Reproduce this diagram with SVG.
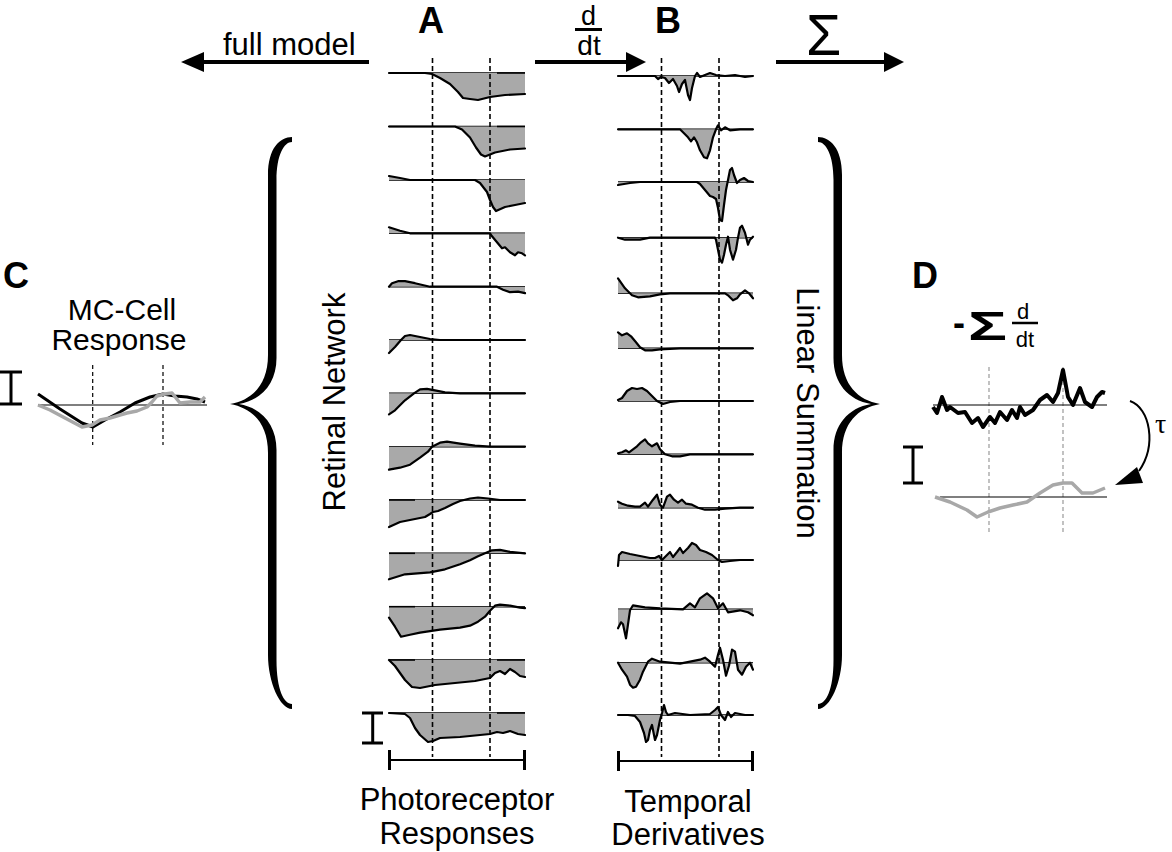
<svg xmlns="http://www.w3.org/2000/svg" xmlns:xlink="http://www.w3.org/1999/xlink" width="1172" height="852" viewBox="0 0 1172 852">
<style>
.fill{fill:#a9a9a9;stroke:none}
.cv{fill:none;stroke:#000;stroke-width:2.2;stroke-linejoin:round;stroke-linecap:round}
.bl{stroke:#000;stroke-width:1.6}
.dash{stroke:#000;stroke-width:1.6;stroke-dasharray:5 3}
.lbl{font-family:"Liberation Sans",Arial,sans-serif;font-size:31px;fill:#000}
.big{font-family:"Liberation Sans",Arial,sans-serif;font-weight:bold;font-size:36px;fill:#000}
.bar{stroke:#000;stroke-width:3;fill:none}
.thin{stroke:#000;stroke-width:2;fill:none}
</style>
<defs>
<path id="brace" d="M292,137 C280,137 268,148 268,175 L268,355 C268,385 252,400 230,404 C252,408 268,423 268,453 L268,655 C268,682 280,709 292,709 L292,704 C284,704 276.5,690 276.5,660 L276.5,450 C276.5,425 262,408 239,404 C262,400 276.5,383 276.5,358 L276.5,180 C276.5,155 284,142 292,142 Z" fill="#000"/>
</defs>

<g id="connectors">
  <line x1="369" y1="62" x2="200" y2="62" stroke="#000" stroke-width="4"/>
  <polygon points="181,62 204,52 204,72" fill="#000"/>
  <line x1="535" y1="62" x2="628" y2="62" stroke="#000" stroke-width="4"/>
  <polygon points="646,62 626,52 626,72" fill="#000"/>
  <line x1="776" y1="62" x2="886" y2="62" stroke="#000" stroke-width="4"/>
  <polygon points="904,62 884,52 884,72" fill="#000"/>
  <path d="M1130,401 C1150,408 1157,445 1139,471" fill="none" stroke="#000" stroke-width="2"/>
  <polygon points="1115,485 1137,467 1143,483" fill="#000"/>
</g>

<g id="top-labels">
  <text class="lbl" x="223" y="55">full model</text>
  <text class="big" x="418" y="33">A</text>
  <text class="big" x="655" y="33">B</text>
  <text class="lbl" x="588.5" y="25" text-anchor="middle" style="font-size:27px">d</text>
  <line x1="575" y1="29.5" x2="602" y2="29.5" stroke="#000" stroke-width="3"/>
  <text class="lbl" x="589" y="55" text-anchor="middle" style="font-size:28px">dt</text>
  <text class="lbl" x="823.5" y="55" text-anchor="middle" style="font-size:57px">Σ</text>
</g>

<g id="braces">
  <use xlink:href="#brace"/>
  <use xlink:href="#brace" transform="translate(1110,0) scale(-1,1)"/>
  <text class="lbl" transform="translate(345,402) rotate(-90)" text-anchor="middle">Retinal Network</text>
  <text class="lbl" transform="translate(797,413) rotate(90)" text-anchor="middle">Linear Summation</text>
</g>

<g id="panel-A">
  <g transform="translate(0,73)">
    <line class="bl" x1="389" y1="0" x2="525" y2="0"/>
    <path class="fill" d="M389,0 L425,0 L432,1 L440,5 L450,11 L458,19 L463,25 L470,26 L478,27 L490,24 L505,22 L525,21 L525,0 Z"/>
    <line class="bl" x1="497" y1="0" x2="525" y2="0"/>
    <polyline class="cv" points="389,0 425,0 432,1 440,5 450,11 458,19 463,25 470,26 478,27 490,24 505,22 525,21"/>
  </g>
  <g transform="translate(0,126.5)">
    <line class="bl" x1="389" y1="0" x2="525" y2="0"/>
    <path class="fill" d="M389,0 L455,0 L462,3 L470,11 L476,21 L481,28 L485,30 L495,26 L510,23 L525,22 L525,0 Z"/>
    <line class="bl" x1="497" y1="0" x2="525" y2="0"/>
    <polyline class="cv" points="389,0 455,0 462,3 470,11 476,21 481,28 485,30 495,26 510,23 525,22"/>
  </g>
  <g transform="translate(0,180)">
    <line class="bl" x1="389" y1="0" x2="525" y2="0"/>
    <path class="fill" d="M389,0 L389,-4 L400,-2 L410,0 L475,0 L480,3 L487,12 L490,20 L493,27 L496,31 L505,27 L515,25 L525,23 L525,0 Z"/>
    <polyline class="cv" points="389,-4 400,-2 410,0 475,0 480,3 487,12 490,20 493,27 496,31 505,27 515,25 525,23"/>
  </g>
  <g transform="translate(0,233.3)">
    <line class="bl" x1="389" y1="0" x2="525" y2="0"/>
    <path class="fill" d="M389,0 L389,-6 L400,-2.5 L410,0 L490,0 L492,3 L497,9 L502,15 L505,14 L510,19 L515,22 L518,19 L522,20 L525,22 L525,0 Z"/>
    <polyline class="cv" points="389,-6 400,-2.5 410,0 490,0 492,3 497,9 502,15 505,14 510,19 515,22 518,19 522,20 525,22"/>
  </g>
  <g transform="translate(0,286.7)">
    <line class="bl" x1="389" y1="0" x2="525" y2="0"/>
    <path class="fill" d="M389,0 L392,-3.5 L398,-5.5 L405,-5.5 L415,-3.5 L430,0 L497,0 L503,3 L510,5.5 L518,5 L525,6.5 L525,0 Z"/>
    <polyline class="cv" points="389,0 392,-3.5 398,-5.5 405,-5.5 415,-3.5 430,0 497,0 503,3 510,5.5 518,5 525,6.5"/>
  </g>
  <g transform="translate(0,340)">
    <line class="bl" x1="389" y1="0" x2="525" y2="0"/>
    <path class="fill" d="M389,0 L389,13 L395,7 L401,0 L405,-4 L410,-5 L420,-3 L430,-1 L440,0 Z"/>
    <polyline class="cv" points="389,13 395,7 401,0 405,-4 410,-5 420,-3 430,-1 440,0 525,0"/>
  </g>
  <g transform="translate(0,393.3)">
    <line class="bl" x1="389" y1="0" x2="525" y2="0"/>
    <path class="fill" d="M389,0 L389,21 L395,17 L405,7 L414,0 L420,-4 L427,-4.5 L435,-3 L445,-1 L460,0 Z"/>
    <polyline class="cv" points="389,21 395,17 405,7 414,0 420,-4 427,-4.5 435,-3 445,-1 460,0 525,0"/>
  </g>
  <g transform="translate(0,446.7)">
    <line class="bl" x1="389" y1="0" x2="525" y2="0"/>
    <path class="fill" d="M389,0 L389,23 L400,21 L410,18 L420,11 L428,5 L432,0 L440,-4 L447,-5 L460,-3 L475,-1 L490,0 Z"/>
    <polyline class="cv" points="389,23 400,21 410,18 420,11 428,5 432,0 440,-4 447,-5 460,-3 475,-1 490,0 525,0"/>
  </g>
  <g transform="translate(0,500)">
    <line class="bl" x1="389" y1="0" x2="525" y2="0"/>
    <path class="fill" d="M389,0 L389,27 L400,22 L415,19 L425,17 L430,14 L433,12 L438,11 L445,8 L453,4 L460,1 L470,-1.5 L478,-2.5 L488,-1.5 L500,0 Z"/>
    <line class="bl" x1="389" y1="0" x2="415" y2="0"/>
    <polyline class="cv" points="389,27 400,22 415,19 425,17 430,14 433,12 438,11 445,8 453,4 460,1 470,-1.5 478,-2.5 488,-1.5 500,0 525,0"/>
  </g>
  <g transform="translate(0,553.3)">
    <line class="bl" x1="389" y1="0" x2="525" y2="0"/>
    <path class="fill" d="M389,0 L389,26 L405,21 L430,19 L445,16 L460,11 L470,7 L478,3 L485,0 L492,-3 L500,-3.5 L510,-1.5 L525,0 Z"/>
    <line class="bl" x1="389" y1="0" x2="415" y2="0"/>
    <polyline class="cv" points="389,26 405,21 430,19 445,16 460,11 470,7 478,3 485,0 492,-3 500,-3.5 510,-1.5 525,0"/>
  </g>
  <g transform="translate(0,606.7)">
    <line class="bl" x1="389" y1="0" x2="525" y2="0"/>
    <path class="fill" d="M389,0 L389,11 L395,20 L401,30 L410,28 L420,26 L440,23 L460,21 L470,19 L478,15 L485,10 L490,4 L495,-1 L500,-2 L510,-1 L520,1 L525,1.5 L525,0 Z"/>
    <line class="bl" x1="389" y1="0" x2="415" y2="0"/>
    <polyline class="cv" points="389,11 395,20 401,30 410,28 420,26 440,23 460,21 470,19 478,15 485,10 490,4 495,-1 500,-2 510,-1 520,1 525,1.5"/>
  </g>
  <g transform="translate(0,660)">
    <line class="bl" x1="389" y1="0" x2="525" y2="0"/>
    <path class="fill" d="M389,0 L395,6 L400,13 L405,20 L412,27 L420,28 L435,25 L455,23 L475,21 L490,18 L495,13 L500,11 L505,14 L510,9 L515,12 L520,16 L525,17 L525,0 Z"/>
    <line class="bl" x1="389" y1="0" x2="415" y2="0"/>
    <line class="bl" x1="497" y1="0" x2="525" y2="0"/>
    <polyline class="cv" points="389,0 395,6 400,13 405,20 412,27 420,28 435,25 455,23 475,21 490,18 495,13 500,11 505,14 510,9 515,12 520,16 525,17"/>
  </g>
  <g transform="translate(0,713)">
    <line class="bl" x1="389" y1="0" x2="525" y2="0"/>
    <path class="fill" d="M389,0 L405,1 L410,5 L415,15 L420,22 L428,29 L433,28 L440,25 L460,24 L480,22 L490,21 L497,19 L503,20 L510,18 L518,21 L525,22 L525,0 Z"/>
    <line class="bl" x1="497" y1="0" x2="525" y2="0"/>
    <polyline class="cv" points="389,0 405,1 410,5 415,15 420,22 428,29 433,28 440,25 460,24 480,22 490,21 497,19 503,20 510,18 518,21 525,22"/>
  </g>
  <line class="dash" x1="432.5" y1="58" x2="432.5" y2="757"/>
  <line class="dash" x1="490" y1="58" x2="490" y2="757"/>
  <line class="bar" x1="372.7" y1="713" x2="372.7" y2="743"/>
  <line class="bar" x1="362" y1="713" x2="383" y2="713"/>
  <line class="bar" x1="362" y1="743" x2="383" y2="743"/>
  <line class="thin" x1="389" y1="760" x2="525" y2="760"/>
  <line class="bar" x1="389.5" y1="750" x2="389.5" y2="770"/>
  <line class="bar" x1="524.5" y1="750" x2="524.5" y2="770"/>
  <text class="lbl" x="457" y="810" text-anchor="middle">Photoreceptor</text>
  <text class="lbl" x="457" y="844" text-anchor="middle">Responses</text>
</g>

<g id="panel-B">
  <g transform="translate(0,76)">
    <line class="bl" x1="618" y1="0" x2="753" y2="0"/>
    <path class="fill" d="M618,0 L655,0 L658,3 L661,1 L665,2 L669,7 L673,3 L677,10 L679,16 L682,8 L685,4 L688,19 L690,24 L692,12 L695,0 L697,-3 L700,1 L705,-1 L710,-3 L716,-1 L725,0 L735,-1 L745,1 L753,0 Z"/>
    <polyline class="cv" points="618,0 655,0 658,3 661,1 665,2 669,7 673,3 677,10 679,16 682,8 685,4 688,19 690,24 692,12 695,0 697,-3 700,1 705,-1 710,-3 716,-1 725,0 735,-1 745,1 753,0"/>
  </g>
  <g transform="translate(0,129.3)">
    <line class="bl" x1="618" y1="0" x2="753" y2="0"/>
    <path class="fill" d="M618,0 L680,0 L683,3 L688,8 L691,12 L694,8 L697,13 L700,21 L704,28 L707,29 L710,21 L713,8 L716,0 L718,-4 L721,1 L725,-2 L730,1 L740,0 L753,0 Z"/>
    <polyline class="cv" points="618,0 680,0 683,3 688,8 691,12 694,8 697,13 700,21 704,28 707,29 710,21 713,8 716,0 718,-4 721,1 725,-2 730,1 740,0 753,0"/>
  </g>
  <g transform="translate(0,182)">
    <line class="bl" x1="618" y1="0" x2="753" y2="0"/>
    <path class="fill" d="M618,0 L618,3 L630,1 L640,0 L697,0 L700,2 L705,8 L710,14 L713,15 L716,17 L718,26 L720,38 L722,39 L724,23 L726,8 L728,-2 L730,-12 L732,-14 L734,-7 L737,1 L740,-2 L744,-4 L748,-1 L753,0 Z"/>
    <polyline class="cv" points="618,3 630,1 640,0 697,0 700,2 705,8 710,14 713,15 716,17 718,26 720,38 722,39 724,23 726,8 728,-2 730,-12 732,-14 734,-7 737,1 740,-2 744,-4 748,-1 753,0"/>
  </g>
  <g transform="translate(0,237.7)">
    <line class="bl" x1="618" y1="0" x2="753" y2="0"/>
    <path class="fill" d="M618,0 L625,2 L640,2 L650,0 L715,0 L716,2 L718,12 L720,22 L722,25 L724,17 L726,7 L728,-1 L730,12 L733,22 L736,12 L738,0 L740,-10 L742,-12 L745,-5 L748,7 L750,2 L753,-1 L753,0 Z"/>
    <polyline class="cv" points="618,0 625,2 640,2 650,0 715,0 716,2 718,12 720,22 722,25 724,17 726,7 728,-1 730,12 733,22 736,12 738,0 740,-10 742,-12 745,-5 748,7 750,2 753,-1"/>
  </g>
  <g transform="translate(0,293.3)">
    <line class="bl" x1="618" y1="0" x2="753" y2="0"/>
    <path class="fill" d="M618,0 L618,-15 L625,-5 L632,2 L638,4 L650,3 L660,1 L670,0 L725,0 L728,2 L733,7 L737,5 L740,1 L745,-3 L749,0 L753,5 L753,0 Z"/>
    <polyline class="cv" points="618,-15 625,-5 632,2 638,4 650,3 660,1 670,0 725,0 728,2 733,7 737,5 740,1 745,-3 749,0 753,5"/>
  </g>
  <g transform="translate(0,348.3)">
    <line class="bl" x1="618" y1="0" x2="753" y2="0"/>
    <path class="fill" d="M618,0 L618,-16 L622,-13 L627,-15 L631,-12 L636,-6 L640,-1 L645,2 L652,2 L660,1 L680,0 Z"/>
    <polyline class="cv" points="618,-16 622,-13 627,-15 631,-12 636,-6 640,-1 645,2 652,2 660,1 680,0 753,0"/>
  </g>
  <g transform="translate(0,401)">
    <line class="bl" x1="618" y1="0" x2="753" y2="0"/>
    <path class="fill" d="M618,0 L618,-1 L622,-3 L627,-10 L632,-13 L637,-12 L642,-13 L647,-10 L652,-5 L657,0 L663,3 L670,1 L680,0 Z"/>
    <polyline class="cv" points="618,-1 622,-3 627,-10 632,-13 637,-12 642,-13 647,-10 652,-5 657,0 663,3 670,1 680,0 753,0"/>
  </g>
  <g transform="translate(0,454.3)">
    <line class="bl" x1="618" y1="0" x2="753" y2="0"/>
    <path class="fill" d="M618,0 L618,-1 L622,-2 L626,-4 L629,-2 L633,-5 L637,-8 L641,-12 L645,-15 L648,-11 L652,-8 L657,-11 L660,-5 L665,0 L672,2 L680,2 L690,0 Z"/>
    <polyline class="cv" points="618,-1 622,-2 626,-4 629,-2 633,-5 637,-8 641,-12 645,-15 648,-11 652,-8 657,-11 660,-5 665,0 672,2 680,2 690,0 753,0"/>
  </g>
  <g transform="translate(0,507.7)">
    <line class="bl" x1="618" y1="0" x2="753" y2="0"/>
    <path class="fill" d="M618,0 L618,-6 L622,-4 L628,-2 L635,-1 L640,-1 L645,-5 L648,-1 L653,-8 L657,-13 L660,-3 L663,0 L667,-11 L670,-13 L674,-8 L678,-5 L682,-8 L686,-4 L692,-3 L698,0 L705,2 L715,2 L725,1 L740,0 Z"/>
    <polyline class="cv" points="618,-6 622,-4 628,-2 635,-1 640,-1 645,-5 648,-1 653,-8 657,-13 660,-3 663,0 667,-11 670,-13 674,-8 678,-5 682,-8 686,-4 692,-3 698,0 705,2 715,2 725,1 740,0 753,0"/>
  </g>
  <g transform="translate(0,560)">
    <line class="bl" x1="618" y1="0" x2="753" y2="0"/>
    <path class="fill" d="M618,0 L618,6 L619,-5 L622,-8 L630,-6 L640,-4 L650,-2 L655,-2 L659,-4 L662,0 L666,-4 L670,-8 L673,-3 L677,-8 L680,-12 L683,-7 L688,-12 L692,-17 L696,-15 L700,-10 L706,-8 L712,-5 L718,0 L722,2 L730,1 L740,0 Z"/>
    <polyline class="cv" points="618,6 619,-5 622,-8 630,-6 640,-4 650,-2 655,-2 659,-4 662,0 666,-4 670,-8 673,-3 677,-8 680,-12 683,-7 688,-12 692,-17 696,-15 700,-10 706,-8 712,-5 718,0 722,2 730,1 740,0 753,0"/>
  </g>
  <g transform="translate(0,609.3)">
    <line class="bl" x1="618" y1="0" x2="753" y2="0"/>
    <path class="fill" d="M618,0 L618,19 L621,13 L623,15 L626,29 L630,1 L633,-4 L645,-2 L660,-1 L683,0 L690,-6 L695,-2 L700,-11 L707,-16 L713,-11 L718,-1 L723,-6 L728,3 L740,1 L748,3 L753,6 L753,0 Z"/>
    <polyline class="cv" points="618,19 621,13 623,15 626,29 630,1 633,-4 645,-2 660,-1 683,0 690,-6 695,-2 700,-11 707,-16 713,-11 718,-1 723,-6 728,3 740,1 748,3 753,6"/>
  </g>
  <g transform="translate(0,662.7)">
    <line class="bl" x1="618" y1="0" x2="753" y2="0"/>
    <path class="fill" d="M618,0 L622,7 L627,14 L630,22 L633,25 L636,24 L640,17 L643,9 L648,-1 L652,-4 L660,-1 L680,1 L690,-1 L700,-3 L705,-5 L710,-1 L715,4 L718,-8 L720,-15 L723,-3 L726,13 L729,3 L732,-13 L735,-11 L738,7 L742,12 L746,4 L750,0 L753,7 L753,0 Z"/>
    <polyline class="cv" points="618,0 622,7 627,14 630,22 633,25 636,24 640,17 643,9 648,-1 652,-4 660,-1 680,1 690,-1 700,-3 705,-5 710,-1 715,4 718,-8 720,-15 723,-3 726,13 729,3 732,-13 735,-11 738,7 742,12 746,4 750,0 753,7"/>
  </g>
  <g transform="translate(0,715)">
    <line class="bl" x1="618" y1="0" x2="753" y2="0"/>
    <path class="fill" d="M618,0 L628,0 L635,1 L640,7 L644,18 L646,27 L648,25 L650,15 L652,10 L655,25 L657,20 L660,5 L662,-2 L664,-10 L666,-3 L668,0 L675,-2 L690,0 L710,-1 L715,-5 L718,-8 L721,0 L725,5 L728,-3 L731,2 L735,-2 L745,0 L753,0 Z"/>
    <polyline class="cv" points="618,0 628,0 635,1 640,7 644,18 646,27 648,25 650,15 652,10 655,25 657,20 660,5 662,-2 664,-10 666,-3 668,0 675,-2 690,0 710,-1 715,-5 718,-8 721,0 725,5 728,-3 731,2 735,-2 745,0 753,0"/>
  </g>
  <line class="dash" x1="661.5" y1="58" x2="661.5" y2="757"/>
  <line class="dash" x1="719" y1="58" x2="719" y2="757"/>
  <line class="thin" x1="618" y1="761" x2="753" y2="761"/>
  <line class="bar" x1="618.5" y1="751" x2="618.5" y2="771"/>
  <line class="bar" x1="752.5" y1="751" x2="752.5" y2="771"/>
  <text class="lbl" x="688" y="812" text-anchor="middle">Temporal</text>
  <text class="lbl" x="688" y="845" text-anchor="middle">Derivatives</text>
</g>

<g id="panel-C">
  <text class="big" x="3" y="288">C</text>
  <text class="lbl" x="122" y="320" text-anchor="middle" style="font-size:30px">MC-Cell</text>
  <text class="lbl" x="119" y="350" text-anchor="middle" style="font-size:30px">Response</text>
  <line class="bar" x1="11" y1="372" x2="11" y2="404"/>
  <line class="bar" x1="0" y1="372" x2="22" y2="372"/>
  <line class="bar" x1="0" y1="404" x2="22" y2="404"/>
  <line x1="38" y1="405" x2="207" y2="405" stroke="#000" stroke-width="1.2"/>
  <line x1="92.7" y1="365" x2="92.7" y2="445" stroke="#000" stroke-width="1.2" stroke-dasharray="4 3"/>
  <line x1="163" y1="365" x2="163" y2="445" stroke="#000" stroke-width="1.2" stroke-dasharray="4 3"/>
  <polyline points="38,394 60,409 82,423 93,427 105,420 120,412 135,403 150,397 163,394 175,396 187,397 197,399 205,402" fill="none" stroke="#000" stroke-width="3" stroke-linejoin="round"/>
  <polyline points="38,405 50,410 65,418 82,427 92,425 100,420 110,418 120,415 127,413 137,411 147,407 152,402 157,396 165,394 172,393 176,398 180,403 190,402 200,402 205,397" fill="none" stroke="#a8a8a8" stroke-width="3.5" stroke-linejoin="round"/>
</g>

<g id="panel-D">
  <text class="big" x="912" y="288">D</text>
  <text class="lbl" x="953" y="335" style="font-size:36px;font-weight:bold">-</text>
  <text class="lbl" x="968" y="340" textLength="39" lengthAdjust="spacingAndGlyphs" style="font-size:40px;font-weight:bold">Σ</text>
  <text class="lbl" x="1023" y="319" text-anchor="middle" style="font-size:22px">d</text>
  <line x1="1012" y1="323" x2="1038" y2="323" stroke="#000" stroke-width="2.5"/>
  <text class="lbl" x="1025" y="347" text-anchor="middle" style="font-size:22px">dt</text>
  <line x1="989" y1="367" x2="989" y2="533" stroke="#999" stroke-width="1.2" stroke-dasharray="4 3"/>
  <line x1="1063" y1="367" x2="1063" y2="533" stroke="#999" stroke-width="1.2" stroke-dasharray="4 3"/>
  <line x1="933" y1="405" x2="1107" y2="405" stroke="#000" stroke-width="1.2"/>
  <polyline points="933,407 937,413 942,397 947,410 950,407 958,413 965,412 972,423 978,418 983,427 990,417 995,423 1000,412 1007,420 1012,410 1017,418 1020,407 1025,415 1033,410 1040,400 1047,395 1053,402 1058,393 1063,370 1068,397 1073,405 1080,388 1085,402 1092,407 1097,397 1102,392 1105,393" fill="none" stroke="#000" stroke-width="4" stroke-linejoin="round"/>
  <line class="bar" x1="913" y1="447" x2="913" y2="483"/>
  <line class="bar" x1="903" y1="447" x2="923" y2="447"/>
  <line class="bar" x1="903" y1="483" x2="923" y2="483"/>
  <line x1="940" y1="497" x2="1107" y2="497" stroke="#000" stroke-width="1.2"/>
  <polyline points="935,497 950,502 967,510 977,517 988,512 1000,508 1013,505 1027,502 1040,493 1053,485 1063,483 1072,483 1082,493 1093,493 1105,488" fill="none" stroke="#a8a8a8" stroke-width="3.5" stroke-linejoin="round"/>
  <text x="1155" y="433" font-family="'Liberation Serif',serif" font-size="28" fill="#000">τ</text>
</g>
</svg>
